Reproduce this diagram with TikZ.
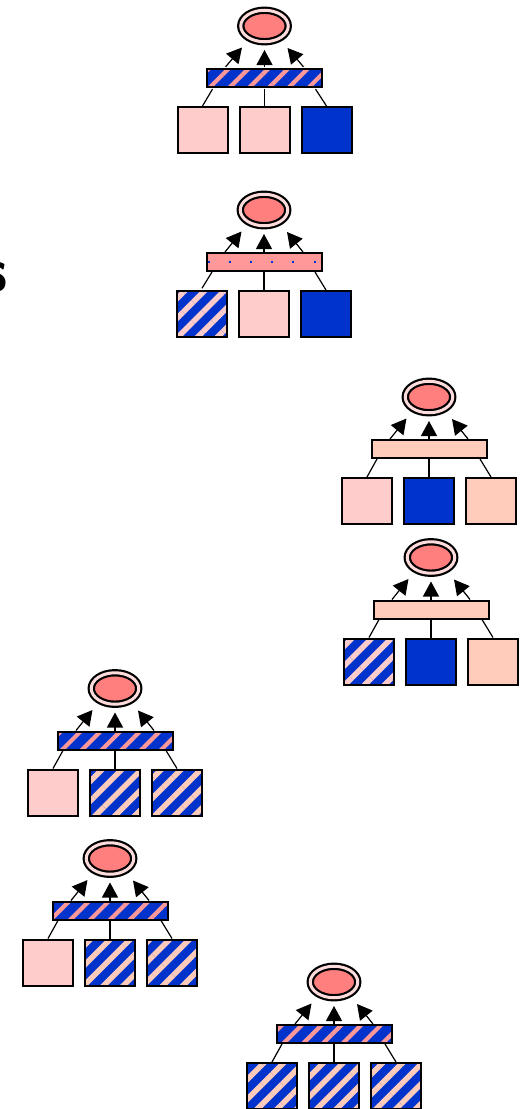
\documentclass[tikz,border=0pt]{standalone}
\usetikzlibrary{arrows.meta,patterns.meta,calc,shapes.geometric}
\definecolor{dblue}{HTML}{0033CC}
\definecolor{salmon}{HTML}{FF7F7F}
\definecolor{rosebar}{HTML}{FF9999}
\definecolor{lpink}{HTML}{FFCCCC}
\definecolor{peach}{HTML}{FFCCBB}
\definecolor{ringpink}{HTML}{FFDCDC}
\tikzset{
  ell/.style={ellipse, draw=black, line width=2.2pt, double=ringpink, double distance=3pt,
    fill=salmon, minimum width=47.5pt, minimum height=31.5pt, inner sep=0pt},
  barbox/.style={rectangle, draw=black, line width=2pt, minimum width=115pt, minimum height=18pt, inner sep=0pt},
  sqbox/.style={rectangle, draw=black, line width=2pt, minimum width=50pt, minimum height=46pt, inner sep=0pt},
  barstripes/.style={preaction={fill=dblue}, pattern={Lines[angle=45,distance=14pt,line width=4.2pt]}, pattern color=rosebar},
  sqstripes/.style={preaction={fill=dblue}, pattern={Lines[angle=45,distance=14pt,line width=5.5pt]}, pattern color=#1},
  link/.style={draw=black, line width=1.2pt},
  arr/.style={draw=black, line width=1.2pt, -{Triangle[length=15pt,width=16pt]}},
}
\newcommand\grp[6]{%
  \node[barbox,#3] (#1b) at (#2) {};
  \node[ell] (#1e) at ($(#1b)+(0,-52)$) {};
  \node[sqbox,#4] (#1s1) at ($(#1b)+(-62,52)$) {};
  \node[sqbox,#5] (#1s2) at ($(#1b)+(0,52)$) {};
  \node[sqbox,#6] (#1s3) at ($(#1b)+(62,52)$) {};
  \draw[link] (#1s1.north) -- ($(#1b.south)+(-52,0)$);
  \draw[link] (#1s2.north) -- (#1b.south);
  \draw[link] (#1s3.north) -- ($(#1b.south)+(51,0)$);
  \draw[arr] ($(#1b.north)+(-39,0)$) -- ($(#1e.center)+(-22.5,21.5)$);
  \draw[arr] (#1b.north) -- ($(#1e.center)+(0,24)$);
  \draw[arr] ($(#1b.north)+(39,0)$) -- ($(#1e.center)+(23,22)$);
}
\begin{document}
\begin{tikzpicture}[x=1pt,y=-1pt]
\useasboundingbox (0,0) rectangle (526,1109);
\clip (0,0) rectangle (526,1109);
\node[anchor=base east, inner sep=0pt, font=\fontsize{62}{62}\selectfont\sffamily\bfseries] (lbl) at (8,291) {s};
\grp{ga}{264.5,78}{barstripes}{fill=lpink}{fill=lpink}{fill=dblue}
\grp{gb}{264,262}{fill=rosebar}{sqstripes=lpink}{fill=lpink}{fill=dblue}
\foreach \dx in {-55,-34,-13,8,29,51}
  \fill[dblue] ($(gbb.center)+(\dx,0)$) +(-1.2,-1.2) rectangle +(1.2,1.2);
\grp{gc}{429,449}{fill=peach}{fill=lpink}{fill=dblue}{fill=peach}
\grp{gd}{431,609.5}{fill=peach}{sqstripes=lpink}{fill=dblue}{fill=peach}
\grp{ge}{115,740.5}{barstripes}{fill=lpink}{sqstripes=peach}{sqstripes=peach}
\grp{gf}{110,910.5}{barstripes}{fill=lpink}{sqstripes=peach}{sqstripes=peach}
\grp{gg}{334,1034}{barstripes}{sqstripes=peach}{sqstripes=peach}{sqstripes=peach}
\end{tikzpicture}
\end{document}
